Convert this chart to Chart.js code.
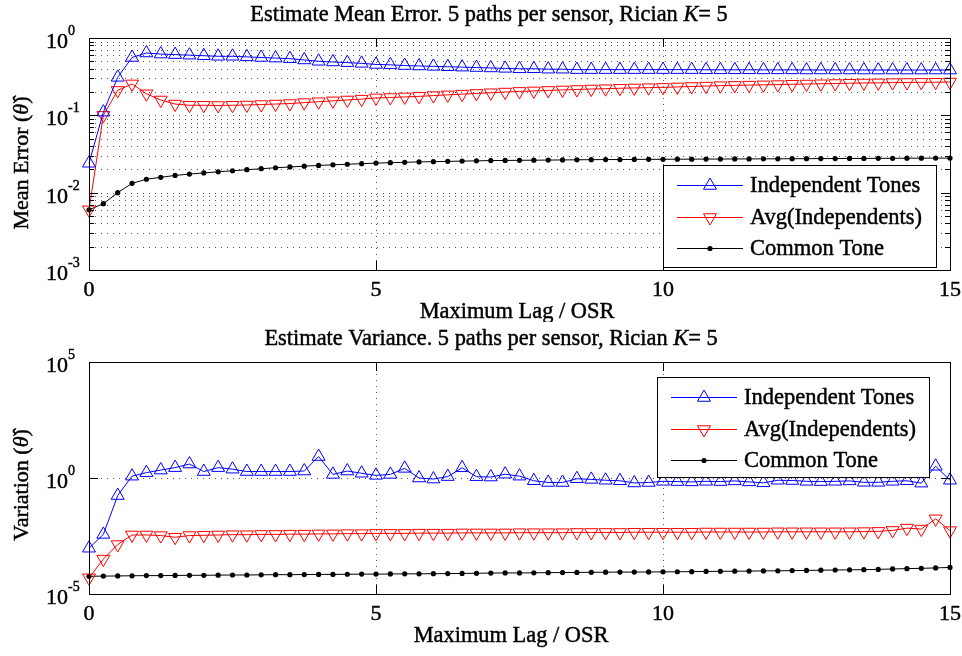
<!DOCTYPE html>
<html>
<head>
<meta charset="utf-8">
<script src="https://cdn.jsdelivr.net/npm/chart.js@4.4.0/dist/chart.umd.min.js"></script>
<style>
html, body { margin: 0; padding: 0; background: #fff; }
#wrap { position: relative; width: 962px; height: 656px; }
canvas { position: absolute; left: 0; }
</style>
</head>
<body>
<div id="wrap">
  <canvas id="errChart" width="962" height="322" style="top:0"></canvas>
  <canvas id="varChart" width="962" height="334" style="top:322px"></canvas>
</div>
<script>
// lag axis (Maximum Lag / OSR)
const lags = [
  0, 0.25, 0.5, 0.75, 1, 1.25, 1.5, 1.75, 2, 2.25, 2.5, 2.75, 3, 3.25, 3.5, 3.75,
  4, 4.25, 4.5, 4.75, 5, 5.25, 5.5, 5.75, 6, 6.25, 6.5, 6.75, 7, 7.25, 7.5, 7.75,
  8, 8.25, 8.5, 8.75, 9, 9.25, 9.5, 9.75, 10, 10.25, 10.5, 10.75, 11, 11.25, 11.5, 11.75,
  12, 12.25, 12.5, 12.75, 13, 13.25, 13.5, 13.75, 14, 14.25, 14.5, 14.75, 15
];

const seriesNames = ['Independent Tones', 'Avg(Independents)', 'Common Tone'];

// top panel: mean error
const indepErr = [
  0.024, 0.11, 0.31, 0.56, 0.64, 0.62, 0.61, 0.60, 0.59, 0.58, 0.58, 0.57, 0.56, 0.55, 0.54, 0.52,
  0.50, 0.49, 0.48, 0.47, 0.455, 0.45, 0.44, 0.435, 0.43, 0.425, 0.42, 0.415, 0.41, 0.405, 0.40, 0.40,
  0.395, 0.395, 0.39, 0.39, 0.39, 0.39, 0.39, 0.39, 0.39, 0.39, 0.39, 0.388, 0.388, 0.388, 0.388, 0.387,
  0.387, 0.387, 0.386, 0.386, 0.386, 0.386, 0.385, 0.385, 0.385, 0.385, 0.385, 0.385, 0.385
];
const avgErr = [
  0.006, 0.10, 0.21, 0.255, 0.19, 0.158, 0.14, 0.135, 0.135, 0.134, 0.135, 0.136, 0.138, 0.14, 0.142, 0.146,
  0.150, 0.154, 0.158, 0.162, 0.168, 0.170, 0.173, 0.176, 0.180, 0.184, 0.188, 0.192, 0.196, 0.200, 0.204, 0.207,
  0.210, 0.213, 0.216, 0.219, 0.221, 0.224, 0.226, 0.228, 0.230, 0.233, 0.236, 0.239, 0.242, 0.244, 0.246, 0.248,
  0.250, 0.252, 0.254, 0.256, 0.258, 0.260, 0.262, 0.263, 0.265, 0.266, 0.267, 0.268, 0.270
];
const commonErr = [
  0.0060, 0.0072, 0.0100, 0.0132, 0.0149, 0.0158, 0.0167, 0.0174, 0.0180, 0.0186, 0.0192, 0.0198, 0.0204, 0.0210, 0.0215, 0.0220,
  0.0225, 0.0229, 0.0233, 0.0237, 0.0241, 0.0244, 0.0247, 0.0250, 0.0252, 0.0254, 0.0256, 0.0258, 0.0260, 0.0261, 0.0262, 0.0263,
  0.0264, 0.0265, 0.0266, 0.0267, 0.0268, 0.0268, 0.0269, 0.0270, 0.0270, 0.0271, 0.0271, 0.0272, 0.0272, 0.0273, 0.0273, 0.0274,
  0.0274, 0.0275, 0.0275, 0.0276, 0.0276, 0.0277, 0.0277, 0.0278, 0.0278, 0.0279, 0.0279, 0.0280, 0.0280
];

// bottom panel: variance
const indepVar = [
  9.4e-4, 3.7e-3, 0.175, 1.2, 1.7, 2.2, 2.8, 4.0, 1.9, 2.8, 2.4, 1.9, 1.9, 1.9, 1.9, 2.0,
  8.4, 1.43, 2.0, 1.6, 1.3, 1.43, 2.6, 1.0, 0.9, 1.15, 2.75, 1.14, 1.1, 1.46, 1.2, 0.76,
  0.64, 0.64, 0.93, 0.87, 0.8, 0.76, 0.61, 0.64, 0.72, 0.7, 0.68, 0.72, 0.7, 0.75, 0.68, 0.62,
  0.8, 0.78, 0.72, 0.7, 0.72, 0.75, 0.65, 0.65, 0.72, 0.76, 0.6, 3.2, 0.8
];
const avgVar = [
  5.0e-5, 3.2e-4, 1.35e-3, 3.5e-3, 3.5e-3, 3.3e-3, 2.8e-3, 3.3e-3, 3.4e-3, 3.5e-3, 3.6e-3, 3.6e-3, 3.7e-3, 3.7e-3, 3.8e-3, 3.8e-3,
  3.9e-3, 3.9e-3, 4.0e-3, 4.0e-3, 4.1e-3, 4.1e-3, 4.1e-3, 4.2e-3, 4.2e-3, 4.2e-3, 4.3e-3, 4.3e-3, 4.3e-3, 4.3e-3, 4.4e-3, 4.4e-3,
  4.4e-3, 4.4e-3, 4.5e-3, 4.5e-3, 4.5e-3, 4.5e-3, 4.6e-3, 4.6e-3, 4.6e-3, 4.6e-3, 4.6e-3, 4.7e-3, 4.7e-3, 4.7e-3, 4.7e-3, 4.7e-3,
  4.8e-3, 4.8e-3, 4.8e-3, 4.8e-3, 4.8e-3, 4.8e-3, 4.9e-3, 5.0e-3, 5.5e-3, 6.9e-3, 6.3e-3, 0.0174, 5.4e-3
];
const commonVar = [
  5.8e-5, 5.9e-5, 6.0e-5, 6.1e-5, 6.2e-5, 6.2e-5, 6.3e-5, 6.4e-5, 6.4e-5, 6.5e-5, 6.6e-5, 6.6e-5, 6.7e-5, 6.8e-5, 6.8e-5, 6.9e-5,
  7.0e-5, 7.0e-5, 7.1e-5, 7.2e-5, 7.2e-5, 7.3e-5, 7.4e-5, 7.4e-5, 7.5e-5, 7.6e-5, 7.7e-5, 7.8e-5, 8.0e-5, 8.1e-5, 8.1e-5, 8.2e-5,
  8.3e-5, 8.4e-5, 8.5e-5, 8.6e-5, 8.7e-5, 8.8e-5, 8.8e-5, 8.9e-5, 9.0e-5, 9.1e-5, 9.2e-5, 9.4e-5, 9.5e-5, 9.6e-5, 9.7e-5, 9.9e-5,
  1.0e-4, 1.02e-4, 1.04e-4, 1.06e-4, 1.08e-4, 1.1e-4, 1.12e-4, 1.15e-4, 1.2e-4, 1.24e-4, 1.28e-4, 1.33e-4, 1.4e-4
];

const xTicks = [0, 5, 10, 15];
const errExps = [0, -1, -2, -3];
const varExps = [5, 0, -5];

const SERIF = '"Liberation Serif", "Times New Roman", serif';

function pts(ys) {
  return lags.map((x, i) => ({ x: x, y: ys[i] }));
}

function makeSets(a, b, c) {
  return [
    { label: seriesNames[0], data: pts(a), borderColor: '#0000ff', borderWidth: 1,
      pointStyle: 'triangle', pointRadius: 7.5, pointBorderWidth: 1,
      pointBorderColor: '#0000ff', pointBackgroundColor: 'rgba(0,0,0,0)' },
    { label: seriesNames[1], data: pts(b), borderColor: '#ff0000', borderWidth: 1,
      pointStyle: 'triangle', pointRotation: 180, pointRadius: 7.5, pointBorderWidth: 1,
      pointBorderColor: '#ff0000', pointBackgroundColor: 'rgba(0,0,0,0)' },
    { label: seriesNames[2], data: pts(c), borderColor: '#000000', borderWidth: 1,
      pointStyle: 'circle', pointRadius: 2.6, pointBorderWidth: 0,
      pointBorderColor: '#000000', pointBackgroundColor: '#000000' }
  ];
}

// slightly heavier text, closer to the LaTeX-rendered labels
function txt(ctx, s, x, y) {
  ctx.fillText(s, x, y);
  ctx.lineWidth = 0.45;
  ctx.strokeStyle = ctx.fillStyle;
  ctx.strokeText(s, x, y);
}

function font(size, italic) {
  return (italic ? 'italic ' : '') + size + 'px ' + SERIF;
}

function drawPieces(ctx, pieces, x, y, size, centered) {
  let w = 0;
  pieces.forEach(p => { ctx.font = font(size, p[1]); w += ctx.measureText(p[0]).width; });
  if (centered) x -= w / 2;
  ctx.textAlign = 'left';
  pieces.forEach(p => {
    ctx.font = font(size, p[1]);
    txt(ctx, p[0], x, y);
    x += ctx.measureText(p[0]).width;
  });
}

const panelDecor = {
  id: 'panelDecor',
  beforeDatasetsDraw(chart, args, o) {
    const ctx = chart.ctx, a = chart.chartArea;
    const xs = chart.scales.x, ys = chart.scales.y;
    ctx.save();
    ctx.strokeStyle = 'rgba(0,0,0,0.65)';
    ctx.lineWidth = 1;
    ctx.setLineDash([1, 5]);
    o.gridY.forEach(v => {
      const y = Math.round(ys.getPixelForValue(v)) + 0.5;
      ctx.beginPath(); ctx.moveTo(a.left, y); ctx.lineTo(a.right, y); ctx.stroke();
    });
    [5, 10].forEach(v => {
      const x = Math.round(xs.getPixelForValue(v)) + 0.5;
      ctx.beginPath(); ctx.moveTo(x, a.top); ctx.lineTo(x, a.bottom); ctx.stroke();
    });
    ctx.restore();
  },
  afterDatasetsDraw(chart, args, o) {
    const ctx = chart.ctx, a = chart.chartArea;
    const xs = chart.scales.x, ys = chart.scales.y;
    ctx.save();
    ctx.strokeStyle = '#000';
    ctx.fillStyle = '#000';
    ctx.lineWidth = 1;
    // axes box
    ctx.strokeRect(Math.round(a.left) + 0.5, Math.round(a.top) + 0.5,
      Math.round(a.right - a.left), Math.round(a.bottom - a.top));
    // x ticks
    ctx.beginPath();
    xTicks.forEach(v => {
      const x = Math.round(xs.getPixelForValue(v)) + 0.5;
      ctx.moveTo(x, a.bottom); ctx.lineTo(x, a.bottom - 9);
      ctx.moveTo(x, a.top); ctx.lineTo(x, a.top + 9);
    });
    // y ticks (major + minor)
    o.exps.forEach(e => {
      const y = Math.round(ys.getPixelForValue(Math.pow(10, e))) + 0.5;
      ctx.moveTo(a.left, y); ctx.lineTo(a.left + 9, y);
      ctx.moveTo(a.right, y); ctx.lineTo(a.right - 9, y);
    });
    o.minorY.forEach(v => {
      const y = Math.round(ys.getPixelForValue(v)) + 0.5;
      ctx.moveTo(a.left, y); ctx.lineTo(a.left + 5, y);
      ctx.moveTo(a.right, y); ctx.lineTo(a.right - 5, y);
    });
    ctx.stroke();

    // x tick labels
    ctx.font = font(22);
    ctx.textAlign = 'center';
    ctx.textBaseline = 'middle';
    xTicks.forEach(v => txt(ctx, String(v), xs.getPixelForValue(v), a.bottom + 20));

    // y tick labels 10^k
    ctx.textBaseline = 'alphabetic';
    o.exps.forEach(e => {
      const y = ys.getPixelForValue(Math.pow(10, e));
      ctx.font = font(22);
      ctx.textAlign = 'right';
      txt(ctx, '10', a.left - 21, y + 10);
      ctx.font = font(14);
      ctx.textAlign = 'left';
      txt(ctx, String(e), a.left - 21, y - 3);
    });

    // titles
    ctx.textBaseline = 'middle';
    drawPieces(ctx, [[o.title, false], ['K', true], ['= 5', false]], o.titleX, a.top - 23, 22.4, true);
    ctx.font = font(22.4);
    ctx.textAlign = 'center';
    txt(ctx, 'Maximum Lag / OSR', o.xlabelX, a.bottom + 42);

    ctx.save();
    ctx.translate(22, (a.top + a.bottom) / 2 + o.ylabelShift);
    ctx.rotate(-Math.PI / 2);
    drawPieces(ctx, [[o.ylabel + ' (', false], ['θ\u0302', true], [')', false]], 0, 0, 22, true);
    ctx.restore();

    // legend
    const L = o.legend;
    ctx.fillStyle = '#fff';
    ctx.fillRect(L.x, L.y, L.w, L.h);
    ctx.strokeStyle = '#000';
    ctx.lineWidth = 1;
    ctx.strokeRect(L.x + 0.5, L.y + 0.5, L.w, L.h);
    chart.data.datasets.forEach((ds, i) => {
      const cy = Math.round(L.y + 20 + i * 31.5) + 0.5;
      ctx.strokeStyle = ds.borderColor;
      ctx.lineWidth = 1;
      ctx.beginPath();
      ctx.moveTo(L.x + 14, cy);
      ctx.lineTo(L.x + 80, cy);
      ctx.stroke();
      ctx.fillStyle = ds.pointBackgroundColor;
      ctx.strokeStyle = ds.pointBorderColor;
      Chart.helpers.drawPoint(ctx, {
        pointStyle: ds.pointStyle, rotation: ds.pointRotation || 0, radius: ds.pointRadius,
        borderWidth: ds.pointBorderWidth
      }, L.x + 47, cy);
      ctx.fillStyle = '#000';
      ctx.font = font(22.5);
      ctx.textAlign = 'left';
      ctx.textBaseline = 'middle';
      txt(ctx, ds.label, L.x + 87, cy + 1);
    });
    ctx.restore();
  }
};

function minorList(lo, hi) {
  const out = [];
  for (let e = lo; e < hi; e++) {
    for (let m = 2; m <= 9; m++) out.push(m * Math.pow(10, e));
  }
  return out;
}

function makePanel(id, sets, yMin, yMax, padBottom, deco) {
  return new Chart(document.getElementById(id).getContext('2d'), {
    type: 'line',
    data: { datasets: sets },
    options: {
      responsive: false,
      animation: false,
      events: [],
      layout: { padding: { left: 89, right: 12, top: deco.padTop, bottom: padBottom } },
      elements: { line: { tension: 0 } },
      datasets: { line: { clip: false } },
      scales: {
        x: {
          type: 'linear', min: 0, max: 15,
          grid: { display: false }, border: { display: false }, ticks: { display: false },
          afterFit(s) { s.height = 0; }
        },
        y: {
          type: 'logarithmic', min: yMin, max: yMax,
          grid: { display: false }, border: { display: false }, ticks: { display: false },
          afterFit(s) { s.width = 0; }
        }
      },
      plugins: {
        legend: { display: false },
        title: { display: false },
        tooltip: { enabled: false },
        panelDecor: deco
      }
    },
    plugins: [panelDecor]
  });
}

const errMinor = minorList(-3, 0);
makePanel('errChart', makeSets(indepErr, avgErr, commonErr), 1e-3, 1, 52, {
  padTop: 38,
  title: 'Estimate Mean Error. 5 paths per sensor, Rician ',
  titleX: 489, xlabelX: 517,
  ylabel: 'Mean Error', ylabelShift: 9,
  exps: errExps,
  minorY: errMinor,
  gridY: errMinor.concat([1e-2, 1e-1]),
  legend: { x: 663, y: 165, w: 273, h: 102 }
});

makePanel('varChart', makeSets(indepVar, avgVar, commonVar), 1e-5, 1e5, 62, {
  padTop: 40,
  title: 'Estimate Variance. 5 paths per sensor, Rician ',
  titleX: 491, xlabelX: 511,
  ylabel: 'Variation', ylabelShift: 7,
  exps: varExps,
  minorY: [],
  gridY: [1],
  legend: { x: 657, y: 55, w: 272, h: 100 }
});
</script>
</body>
</html>
